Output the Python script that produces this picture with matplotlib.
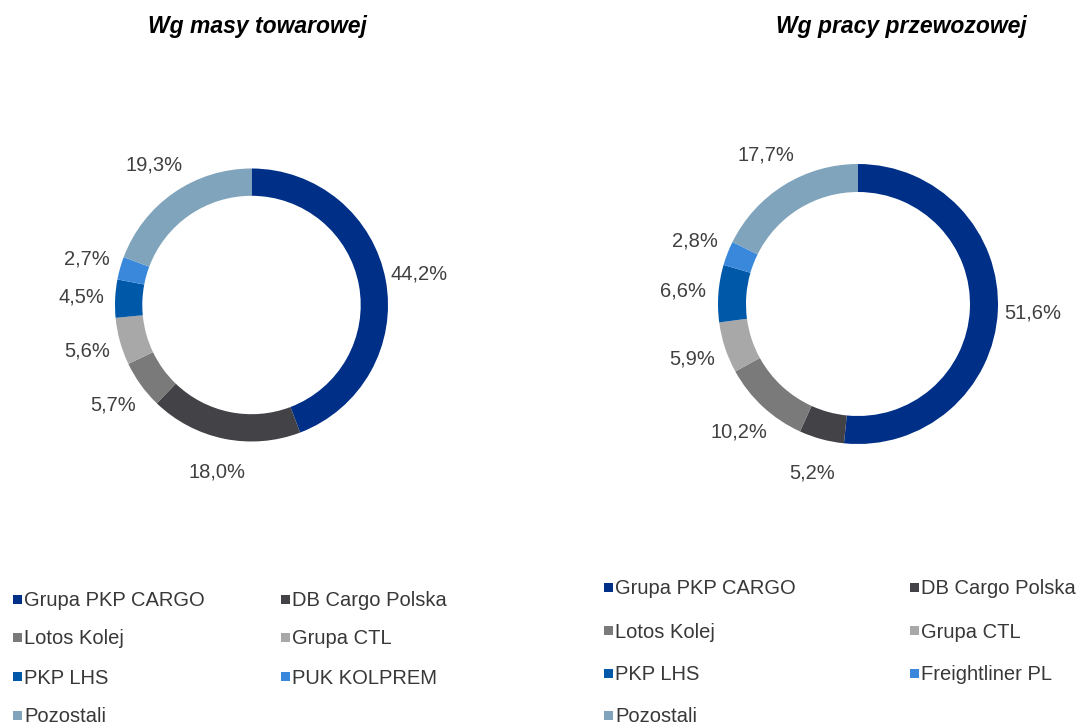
import matplotlib
matplotlib.use("Agg")
import matplotlib.pyplot as plt
import numpy as np
from matplotlib.patches import Rectangle

plt.rcParams['font.family'] = ['Liberation Sans', 'DejaVu Sans']

titles = ["Wg masy towarowej", "Wg pracy przewozowej"]
labels_left = ["Grupa PKP CARGO", "DB Cargo Polska", "Lotos Kolej", "Grupa CTL",
               "PKP LHS", "PUK KOLPREM", "Pozostali"]
labels_right = ["Grupa PKP CARGO", "DB Cargo Polska", "Lotos Kolej", "Grupa CTL",
                "PKP LHS", "Freightliner PL", "Pozostali"]
values_left = [44.2, 18.0, 5.7, 5.6, 4.5, 2.7, 19.3]
values_right = [51.6, 5.2, 10.2, 5.9, 6.6, 2.8, 17.7]
colors = ["#002F87", "#424247", "#7A7A7A", "#A8A8A8", "#0058A8", "#3A88DC", "#80A4BC"]

W, H = 1084, 727
fig = plt.figure(figsize=(W / 100, H / 100), dpi=100)
fig.patch.set_facecolor("white")

text_color = "#404040"


def donut(cx, cy, r, values, title, tx):
    lim = 1.6
    size = 2 * lim * r
    ax = fig.add_axes([(cx - size / 2) / W, (H - cy - size / 2) / H, size / W, size / H])
    wedges, _ = ax.pie(values, colors=colors, startangle=90, counterclock=False,
                       radius=1.0, wedgeprops=dict(width=0.2, linewidth=0))
    for w, v in zip(wedges, values):
        ang = np.deg2rad((w.theta1 + w.theta2) / 2)
        d = 1.25
        ax.text(d * np.cos(ang), d * np.sin(ang), f"{v:.1f}%".replace(".", ","),
                ha="center", va="center", fontsize=14.5, color=text_color)
    ax.set_xlim(-lim, lim)
    ax.set_ylim(-lim, lim)
    ax.set_aspect("equal")
    ax.axis("off")
    fig.text(tx / W, 1 - 27 / H, title, ha="center", va="center", fontsize=16.5,
             fontweight="bold", fontstyle="italic", color="#000000")


donut(251.5, 305, 136.5, values_left, titles[0], 257.5)
donut(858, 304, 140, values_right, titles[1], 901)


def legend(labels, x0, x1, rows):
    for i, lab in enumerate(labels):
        col = i % 2
        row = i // 2
        mx = x0 if col == 0 else x1
        my = rows[row]
        s = 9
        fig.patches.append(Rectangle(((mx - s / 2) / W, (H - (my - 2) - s / 2) / H), s / W, s / H,
                                     transform=fig.transFigure, facecolor=colors[i],
                                     edgecolor="none"))
        fig.text((mx + 7) / W, 1 - my / H, lab, ha="left", va="center",
                 fontsize=14.5, color="#383838")


legend(labels_left, 17, 285, [601, 639, 678, 717])
legend(labels_right, 608, 914, [589, 632, 675, 717])

fig.savefig("out.png", dpi=100, facecolor="white")
